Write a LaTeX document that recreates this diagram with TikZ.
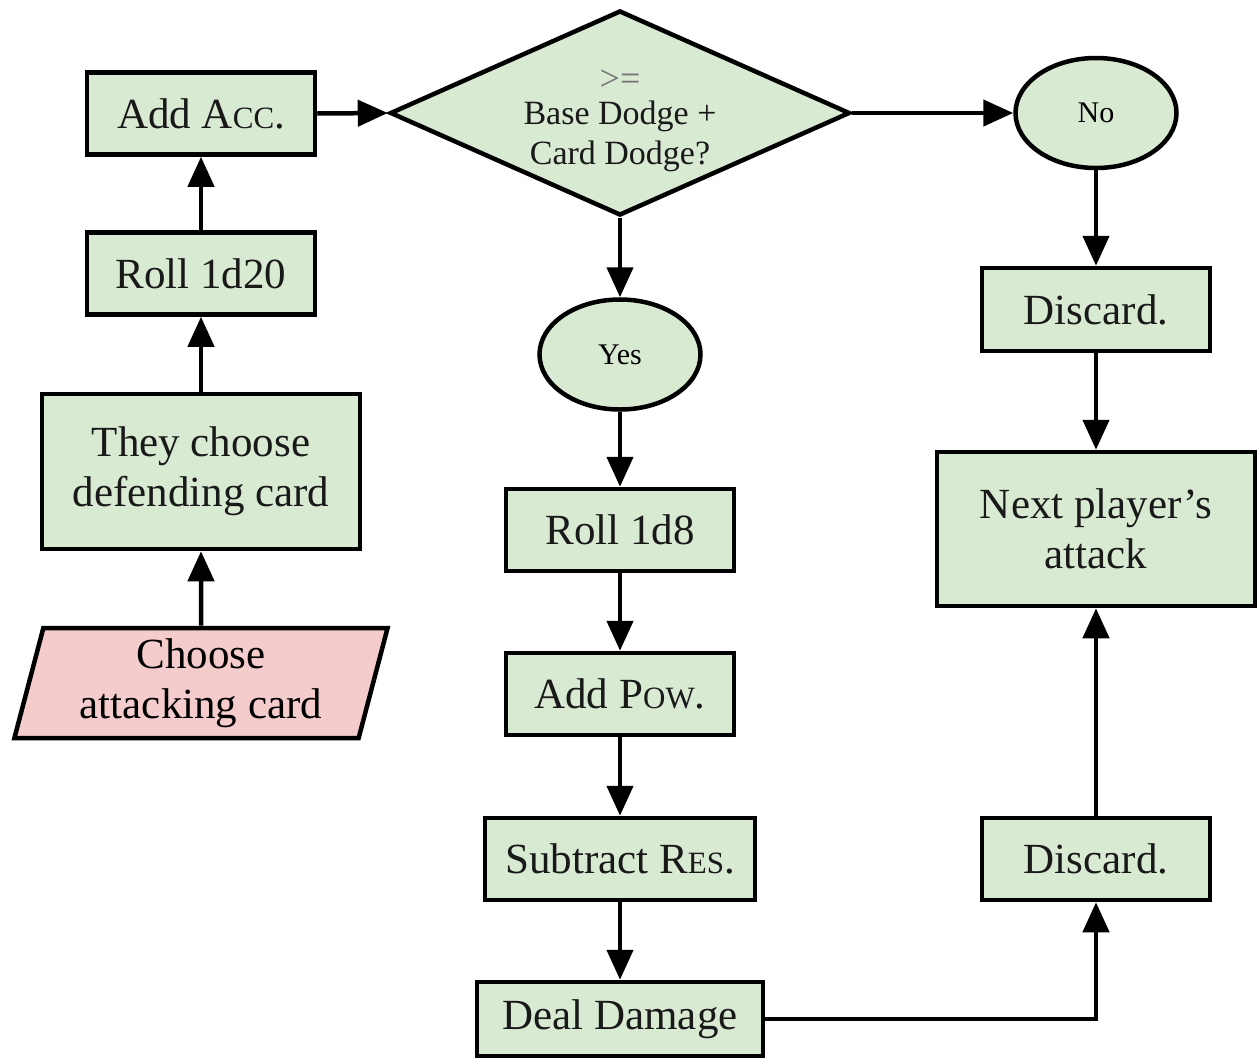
\documentclass[tikz,border=0pt]{standalone}
\usepackage{fontspec}
\setmainfont{Liberation Serif}
\usetikzlibrary{shapes.geometric,arrows.meta}
\definecolor{boxgreen}{HTML}{D9EAD3}
\definecolor{boxpink}{HTML}{F4CCCC}
\newcommand{\bigtxt}{\fontsize{43}{50}\selectfont}
\newcommand{\smcp}{\fontsize{31}{31}\selectfont}
\tikzset{
  stepbox/.style={draw=black, fill=boxgreen, rectangle, inner sep=0pt, line width=4.5pt, font=\bigtxt, align=center, text=black!90},
  oval/.style={draw=black, fill=boxgreen, ellipse, inner sep=0pt, line width=4.5pt, font=\fontsize{30}{36}\selectfont, minimum width=161pt, minimum height=110pt},
  decision/.style={draw=black, fill=boxgreen, diamond, inner sep=0pt, line width=4.5pt, minimum width=460pt, minimum height=205pt},
  inbox/.style={draw=black, fill=boxpink, trapezium, trapezium left angle=76, trapezium right angle=104, trapezium stretches=true, inner sep=0pt, line width=4.5pt, font=\bigtxt, align=center, minimum width=374pt, minimum height=110pt},
  flow/.style={line width=4.5pt, -{Triangle[length=30pt,width=26pt]}},
}
\begin{document}
\begin{tikzpicture}[x=1pt,y=-1pt]
\useasboundingbox (0,0) rectangle (1259,1061);
% left column
\node[stepbox, minimum width=228pt, minimum height=82pt] (add) at (201,113.5) {Add A{\smcp CC}.};
\node[stepbox, minimum width=228pt, minimum height=82pt] (roll20) at (201,273.5) {Roll 1d20};
\node[stepbox, minimum width=318pt, minimum height=155pt] (they) at (201,471.5) {They choose\\defending card};
\node[inbox] (choose) at (201,683) {Choose\\attacking card};
% decision
\node[decision] (dia) at (620,113) {};
\node[align=center, font=\fontsize{34}{40}\selectfont, text=black!90] (dtext) at (620,121)
  {{\color{black!55}\fontsize{36}{36}\selectfont >=}\\[-6pt]Base Dodge +\\Card Dodge?};
% middle column
\node[oval] (yes) at (620,354.5) {Yes};
\node[stepbox, minimum width=228pt, minimum height=82pt] (roll8) at (620,530) {Roll 1d8};
\node[stepbox, minimum width=228pt, minimum height=82pt] (pow) at (620,694) {Add P{\smcp OW}.};
\node[stepbox, minimum width=270pt, minimum height=82pt] (res) at (620,859) {Subtract R{\smcp ES}.};
\node[stepbox, minimum width=286pt, minimum height=74pt] (deal) at (620,1019) {Deal Damage};
% right column
\node[oval] (no) at (1096,113) {No};
\node[stepbox, minimum width=228pt, minimum height=83pt] (disc1) at (1096,309.5) {Discard.};
\node[stepbox, minimum width=318pt, minimum height=154pt] (next) at (1096,529) {Next player’s\\attack};
\node[stepbox, minimum width=228pt, minimum height=82pt] (disc2) at (1096,859) {Discard.};
% connectors
\draw[flow] (choose) -- (they);
\draw[flow] (they) -- (roll20);
\draw[flow] (roll20) -- (add);
\draw[flow] (add.east) -- (dia.west);
\draw[flow] (dia.east) -- (no.west);
\draw[flow] (dia.south) -- (yes.north);
\draw[flow] (yes) -- (roll8);
\draw[flow] (roll8) -- (pow);
\draw[flow] (pow) -- (res);
\draw[flow] (res) -- (deal);
\draw[flow] (no) -- (disc1);
\draw[flow] (disc1) -- (next);
\draw[flow] (disc2) -- (next);
\draw[flow] (deal.east) -| (disc2.south);
\end{tikzpicture}
\end{document}
